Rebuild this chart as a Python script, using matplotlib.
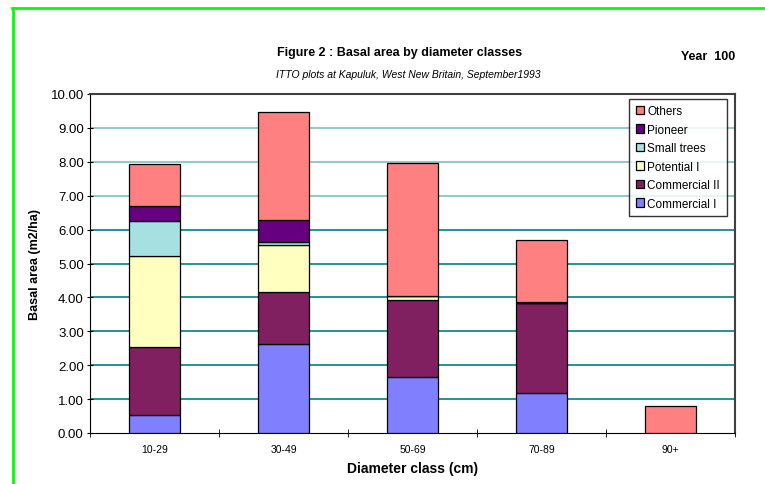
import matplotlib.pyplot as plt
from matplotlib.lines import Line2D
import numpy as np

plt.rcParams['font.family'] = ['Liberation Sans', 'DejaVu Sans']

# diameter classes and basal area (m2/ha) per species group
classes = ['10-29', '30-49', '50-69', '70-89', '90+']
commercial_1 = [0.53, 2.62, 1.66, 1.18, 0.00]
commercial_2 = [2.00, 1.54, 2.26, 2.65, 0.00]
potential_1 = [2.68, 1.40, 0.12, 0.00, 0.00]
small_trees = [1.03, 0.07, 0.00, 0.00, 0.00]
pioneer = [0.45, 0.64, 0.00, 0.03, 0.00]
others = [1.24, 3.20, 3.91, 1.83, 0.79]

series = [
    ('Commercial I', commercial_1, '#8080FF'),
    ('Commercial II', commercial_2, '#802060'),
    ('Potential I', potential_1, '#FFFFC0'),
    ('Small trees', small_trees, '#A6E0E0'),
    ('Pioneer', pioneer, '#660080'),
    ('Others', others, '#FF8080'),
]

fig = plt.figure(figsize=(7.65, 4.85), dpi=100)
ax = fig.add_axes([90/765, 51/485, 645/765, 339/485])

x = np.arange(len(classes))
bottom = np.zeros(len(classes))
handles = []
for name, vals, col in series:
    vals = np.array(vals)
    b = ax.bar(x, vals, width=0.4, bottom=bottom, color=col,
               edgecolor='black', linewidth=0.9, label=name, zorder=3)
    handles.append(b)
    bottom += vals

# gridlines
for v in range(1, 11):
    c = '#008080' if v < 7 else '#7FBFBF'
    ax.axhline(v, color=c, linewidth=1.2, zorder=1)

ax.set_xlim(-0.5, 4.5)
ax.set_ylim(0, 10)
ax.set_yticks(np.arange(0, 11, 1))
ax.set_yticklabels(['%.2f' % v for v in range(11)], fontsize=9.5)
ax.set_xticks(x)
ax.set_xticklabels(classes, fontsize=7.5)
ax.tick_params(axis='x', length=0, pad=8)
ax.set_xticks(np.arange(-0.5, 5, 1), minor=True)
ax.tick_params(axis='x', which='minor', length=6, direction='inout')
ax.tick_params(axis='y', length=5, direction='inout', pad=2)

for s in ['left', 'bottom']:
    ax.spines[s].set_color('black')
for s in ['top', 'right']:
    ax.spines[s].set_color('#404040')
    ax.spines[s].set_linewidth(1.5)

ax.set_xlabel('Diameter class (cm)', fontsize=10, fontweight='bold', labelpad=5)
ax.set_ylabel('Basal area (m2/ha)', fontsize=9, fontweight='bold', labelpad=7)

leg = ax.legend(handles[::-1], [s[0] for s in series][::-1],
                loc='upper right', bbox_to_anchor=(0.987, 0.986),
                fontsize=8.5, frameon=True, fancybox=False, edgecolor='black',
                handlelength=0.7, handleheight=0.7, handletextpad=0.3,
                labelspacing=0.55, borderpad=0.55, borderaxespad=0)
leg.get_frame().set_linewidth(1.0)

fig.text(400/765, 1 - 53/485, 'Figure 2 : Basal area by diameter classes',
         ha='center', va='center', fontsize=9, fontweight='bold')
fig.text(735/765, 1 - 57/485, 'Year  100', ha='right', va='center',
         fontsize=9, fontweight='bold')
fig.text(408/765, 1 - 75/485, 'ITTO plots at Kapuluk, West New Britain, September1993',
         ha='center', va='center', fontsize=7.5, style='italic')

# green page border
fig.add_artist(Line2D([12/765, 1], [1 - 9/485, 1 - 9/485], color='#00FF00', linewidth=2))
fig.add_artist(Line2D([13/765, 13/765], [0, 1 - 9/485], color='#00FF00', linewidth=2))

fig.savefig('out.png', dpi=100)
